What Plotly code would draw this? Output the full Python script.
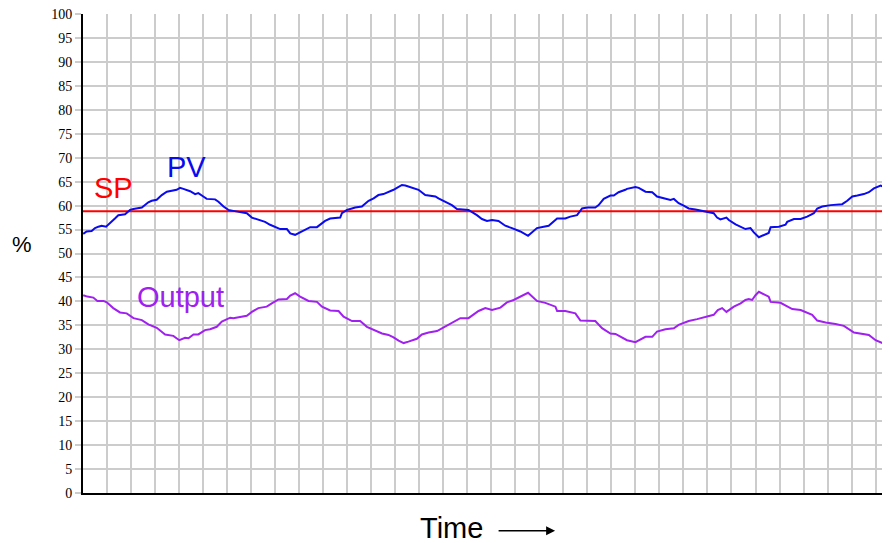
import plotly.graph_objects as go

# time axis in grid divisions, values in %
pv_t = [0.01, 0.15, 0.36, 0.5, 0.64, 0.78, 0.96, 1.13, 1.33, 1.47, 1.75, 1.96, 2.10, 2.45, 2.72, 2.86,
        3.07, 3.28, 3.49, 3.90, 4.04, 4.18, 4.32, 4.46, 4.67, 4.80, 5.01, 5.15, 5.5, 5.64, 5.85, 6.05,
        6.26, 6.47, 6.82, 7.03, 7.30, 7.58, 7.79, 8.07, 8.21, 8.49, 8.63, 8.83, 9.04, 9.25, 9.46, 9.74,
        9.95, 10.08, 10.29, 10.71, 10.78, 10.99, 11.20, 11.33, 11.61, 11.89, 12.10, 12.30, 12.51, 12.72,
        12.93, 13.07, 13.28, 13.42, 13.70, 13.97, 14.25, 14.67, 14.80, 15.08, 15.36, 15.57, 16.05, 16.40,
        16.61, 16.82, 17.03, 17.30, 17.58, 17.86, 18.21, 18.53, 18.90, 19.18, 19.39, 19.74, 20.08, 20.29,
        20.57, 20.78, 20.99, 21.33, 21.47, 21.68, 21.96, 22.10, 22.30, 22.58, 22.65, 23.0, 23.14, 23.42,
        23.70, 23.90, 24.25, 24.46, 24.60, 24.80, 25.01, 25.22, 25.5, 25.78, 26.05, 26.26, 26.40, 26.54,
        26.79, 26.89, 27.17, 27.38, 27.58, 27.79, 27.93, 28.14, 28.35, 28.55, 28.63, 28.97, 29.25, 29.32,
        29.60, 29.88, 30.15, 30.43, 30.57, 30.78, 31.13, 31.61, 31.82, 32.03, 32.24, 32.51, 32.72, 32.93,
        33.21, 33.35, 33.7]
pv = [54.1, 54.6, 54.7, 55.3, 55.6, 55.8, 55.6, 56.3, 57.3, 58.0, 58.2, 59.1, 59.3, 59.6, 60.7, 61.0,
      61.2, 62.2, 62.9, 63.3, 63.7, 63.5, 63.3, 63.0, 62.4, 62.6, 61.9, 61.4, 61.3, 60.8, 59.8, 59.1,
      58.9, 58.7, 58.4, 57.5, 57.0, 56.6, 56.0, 55.3, 55.1, 55.1, 54.2, 53.9, 54.4, 54.9, 55.5, 55.5,
      56.3, 56.8, 57.3, 57.5, 58.4, 59.1, 59.4, 59.6, 59.8, 61.0, 61.5, 62.2, 62.4, 62.8,
      63.3, 63.7, 64.3, 64.2, 63.7, 63.3, 62.2, 61.9, 61.5, 60.8, 60.1, 59.3, 59.1, 58.0,
      57.2, 56.8, 57.0, 56.8, 55.8, 55.3, 54.6, 53.7, 55.3, 55.6, 55.8, 57.3, 57.3, 57.7,
      58.0, 59.4, 59.6, 59.6, 60.1, 61.4, 62.1, 62.1, 62.8, 63.3, 63.5, 63.9, 63.7, 62.9,
      62.8, 61.9, 61.5, 61.2, 61.4, 60.5, 60.0, 59.4, 59.2, 58.9, 58.5, 58.4, 57.5, 57.1,
      57.5, 57.0, 56.1, 55.6, 55.1, 55.3, 54.4, 53.4, 53.9, 54.3, 55.5, 55.6, 56.0, 56.6,
      57.2, 57.2, 57.7, 58.4, 59.4, 59.8, 60.1, 60.3, 61.0, 61.9, 62.1, 62.4, 62.8, 63.6,
      64.2, 63.9, 63.1]

out_t = [0.01, 0.18, 0.43, 0.60, 0.85, 0.99, 1.26, 1.54, 1.82, 2.10, 2.45, 2.72, 3.07, 3.42, 3.76, 4.01,
         4.25, 4.39, 4.60, 4.80, 5.08, 5.29, 5.57, 5.78, 6.13, 6.26, 6.82, 7.03, 7.30, 7.65, 7.86, 8.14,
         8.49, 8.63, 8.83, 9.04, 9.39, 9.74, 9.95, 10.29, 10.64, 10.85, 11.20, 11.54, 11.82, 12.10, 12.45,
         12.72, 12.93, 13.14, 13.35, 13.55, 13.90, 14.11, 14.39, 14.74, 15.08, 15.43, 15.71, 16.05, 16.26,
         16.47, 16.75, 17.03, 17.38, 17.65, 17.93, 18.21, 18.53, 18.90, 19.25, 19.67, 19.74, 20.08, 20.50,
         20.71, 20.99, 21.33, 21.61, 21.96, 22.17, 22.58, 22.65, 23.0, 23.42, 23.70, 23.90, 24.25, 24.60,
         24.80, 25.22, 25.57, 25.92, 26.26, 26.43, 26.61, 26.79, 27.10, 27.38, 27.58, 27.72, 27.86, 28.0,
         28.14, 28.55, 28.63, 29.04, 29.25, 29.53, 29.88, 30.36, 30.57, 30.92, 31.33, 31.68, 32.10, 32.45,
         32.72, 33.0, 33.28, 33.49, 33.7]
output = [41.3, 41.0, 40.8, 40.1, 40.1, 39.8, 38.6, 37.7, 37.5, 36.5, 36.1, 35.2, 34.5, 33.1, 32.8, 31.9,
          32.4, 32.3, 33.1, 33.1, 34.0, 34.2, 34.7, 35.8, 36.6, 36.5, 37.0, 37.8, 38.6, 38.9, 39.6, 40.4,
          40.5, 41.2, 41.7, 41.0, 40.1, 39.9, 38.9, 38.1, 38.0, 36.8, 35.9, 35.9, 34.7, 34.0, 33.3,
          33.0, 32.5, 31.8, 31.3, 31.6, 32.2, 33.1, 33.5, 33.8, 34.7, 35.6, 36.5, 36.5, 37.2,
          38.0, 38.6, 38.2, 38.7, 39.8, 40.3, 41.0, 41.8, 40.1, 39.7, 38.9, 38.0, 38.0, 37.5,
          36.0, 36.0, 35.9, 34.4, 33.3, 33.2, 32.2, 31.9, 31.5, 32.6, 32.6, 33.7, 34.2, 34.4,
          35.1, 35.9, 36.3, 36.8, 37.2, 38.2, 38.6, 37.8, 38.9, 39.6, 40.3, 40.5, 40.3, 41.3,
          42.0, 41.0, 39.9, 39.7, 39.2, 38.4, 38.2, 37.2, 36.0, 35.6, 35.3, 34.9, 33.5, 33.3,
          33.0, 31.9, 31.3, 31.6, 32.3]

setpoint = 58.8
t_span = [0, 33.7]

fig = go.Figure()
fig.add_trace(go.Scatter(x=t_span, y=[setpoint, setpoint], mode='lines',
                         line=dict(color='#ff0000', width=2)))
fig.add_trace(go.Scatter(x=pv_t, y=pv, mode='lines',
                         line=dict(color='#0a0aee', width=2)))
fig.add_trace(go.Scatter(x=out_t, y=output, mode='lines',
                         line=dict(color='#a020f0', width=2)))

label_font = 'Liberation Sans, Arial, sans-serif'
fig.add_annotation(x=1.29, y=63.7, text='SP', showarrow=False,
                   font=dict(family=label_font, size=29, color='#ff0000'))
fig.add_annotation(x=4.29, y=68.1, text='PV', showarrow=False,
                   font=dict(family=label_font, size=29, color='#0a0aee'))
fig.add_annotation(x=4.08, y=40.9, text='Output', showarrow=False,
                   font=dict(family=label_font, size=29, color='#a020f0'))
fig.add_annotation(xref='paper', yref='paper', x=-0.0756, y=0.518, text='%',
                   xanchor='center', yanchor='middle',
                   showarrow=False, font=dict(family=label_font, size=22, color='black'))
fig.add_annotation(xref='paper', yref='paper', x=0.457, y=-0.074, text='Time',
                   xanchor='center', yanchor='middle',
                   showarrow=False, font=dict(family=label_font, size=29, color='black'))
fig.add_annotation(xref='paper', yref='paper', x=0.585, y=-0.079, ax=-58, ay=0,
                   text='', showarrow=True, arrowhead=2, arrowsize=1.2,
                   arrowwidth=1.5, arrowcolor='black')

fig.update_xaxes(range=[0, 33.6], dtick=1, showgrid=True, gridcolor='#cccccc', gridwidth=2,
                 showticklabels=False, showline=True, linecolor='black', linewidth=2,
                 zeroline=False, ticks='')
fig.update_yaxes(range=[0, 100], dtick=5, showgrid=True, gridcolor='#cccccc', gridwidth=2,
                 showline=True, linecolor='black', linewidth=2, zeroline=False,
                 ticks='outside', ticklen=6, tickwidth=2, tickcolor='#cccccc',
                 ticklabeloverflow='allow',
                 tickfont=dict(family='Liberation Serif, Times New Roman, serif', size=14, color='black'))

# page body has an 8px margin, so the figure is 8px smaller than the window
fig.update_layout(
    width=882,
    height=535,
    showlegend=False,
    plot_bgcolor='white',
    paper_bgcolor='white',
    margin=dict(l=75, r=0, t=6, b=50),
)
fig.write_html("out.html")
